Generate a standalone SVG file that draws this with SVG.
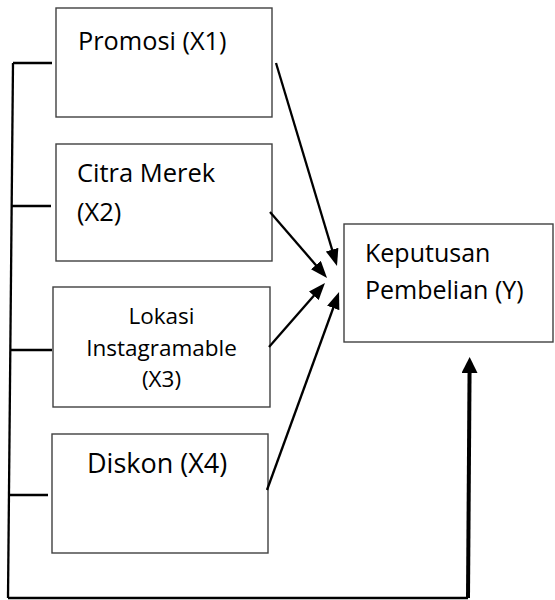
<svg xmlns="http://www.w3.org/2000/svg" width="555" height="600" viewBox="0 0 555 600">
  <style>
    .box { fill: #ffffff; stroke: #404040; stroke-width: 1.4; }
    .lbl { font-family: "Open Sans", "DejaVu Sans", sans-serif; fill: #000000; }
    .conn { fill: none; stroke: #000000; stroke-width: 2.3; }
    .thick { fill: none; stroke: #000000; stroke-width: 4; }
  </style>
  <defs>
    <marker id="ah" viewBox="0 0 17 13" refX="9" refY="6.5" markerWidth="17" markerHeight="13" markerUnits="userSpaceOnUse" orient="auto">
      <path d="M0,0 L17,6.5 L0,13 Z" fill="#000000"/>
    </marker>
    <marker id="ahBig" viewBox="0 0 16 16" refX="8" refY="8" markerWidth="16" markerHeight="16" markerUnits="userSpaceOnUse" orient="auto">
      <path d="M0,0 L16,8 L0,16 Z" fill="#000000"/>
    </marker>
  </defs>
  <rect width="555" height="600" fill="#ffffff"/>

  <g id="node-x1">
    <rect class="box" x="56" y="8" width="216" height="109"/>
    <text class="lbl" x="78" y="50" font-size="25.3">Promosi (X1)</text>
  </g>
  <g id="node-x2">
    <rect class="box" x="56" y="144" width="216" height="117"/>
    <text class="lbl" x="77" y="182" font-size="25.5">Citra Merek</text>
    <text class="lbl" x="77" y="221" font-size="25.5">(X2)</text>
  </g>
  <g id="node-x3">
    <rect class="box" x="53" y="287" width="217" height="120"/>
    <text class="lbl" x="161.5" y="324" font-size="22.5" text-anchor="middle">Lokasi</text>
    <text class="lbl" x="161.5" y="356" font-size="22.5" text-anchor="middle">Instagramable</text>
    <text class="lbl" x="161.5" y="387" font-size="22.5" text-anchor="middle">(X3)</text>
  </g>
  <g id="node-x4">
    <rect class="box" x="52" y="434" width="216" height="119"/>
    <text class="lbl" x="87" y="473" font-size="27">Diskon (X4)</text>
  </g>
  <g id="node-y">
    <rect class="box" x="344" y="224" width="209" height="118"/>
    <text class="lbl" x="365" y="262" font-size="25">Keputusan</text>
    <text class="lbl" x="365" y="299" font-size="25">Pembelian (Y)</text>
  </g>

  <g id="connectors">
    <path class="conn" d="M13,63 L8,598"/>
    <path class="conn" d="M13,63 L52,63"/>
    <path class="conn" d="M11,206 L51,206"/>
    <path class="conn" d="M10,350 L52,350"/>
    <path class="conn" d="M9,495 L48,495"/>
    <path class="conn" d="M8,598 L468,598"/>
    <path class="thick" d="M468,598 L469.6,365" marker-end="url(#ahBig)"/>
    <path class="conn" d="M276,63 L334.7,258.3" marker-end="url(#ah)"/>
    <path class="conn" d="M270,212 L321.8,271.9" marker-end="url(#ah)"/>
    <path class="conn" d="M269,347 L319.7,289" marker-end="url(#ah)"/>
    <path class="conn" d="M267,490 L336.3,299.5" marker-end="url(#ah)"/>
  </g>
</svg>
